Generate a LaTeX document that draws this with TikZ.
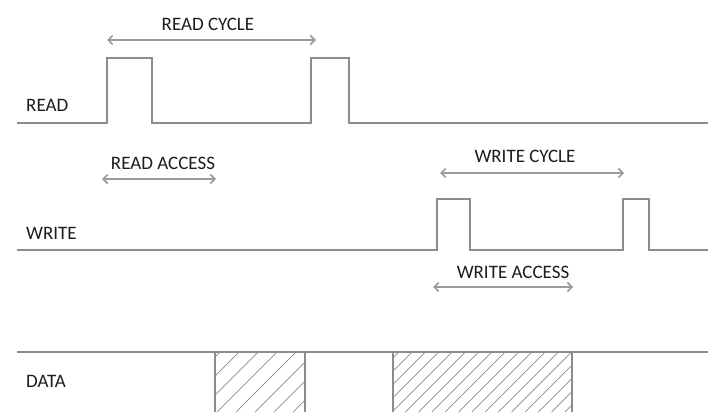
\documentclass[tikz,border=0pt]{standalone}
\usepackage{fontspec}
\setmainfont{Carlito}
\usetikzlibrary{arrows.meta}

\definecolor{wave}{HTML}{8C8C8C}
\definecolor{spancol}{HTML}{9C9C9C}
\definecolor{ink}{HTML}{1C1C1C}

\tikzstyle{every node}=[inner sep=0pt, text=ink, font=\fontsize{19}{21}\selectfont]
\tikzstyle{signame}=[anchor=west]
\tikzstyle{signal}=[draw=wave, line width=1.4pt]
\tikzstyle{span}=[draw=spancol, line width=1.6pt, {Straight Barb[length=4.5pt,width=9pt]}-{Straight Barb[length=4.5pt,width=9pt]}]
\tikzstyle{hatch}=[draw=wave, line width=0.7pt]

\begin{document}
\begin{tikzpicture}[x=1pt,y=-1pt]
    \useasboundingbox (0,0) rectangle (708,412);
    % signal names
    \node [signame] (read) at (26,105) {READ};
    \node [signame] (write) at (26,233) {WRITE};
    \node [signame] (data) at (26,381) {DATA};

    % waveforms
    \draw [signal] (17,123) -- (107,123) -- (107,58) -- (152,58) -- (152,123)
        -- (311,123) -- (311,58) -- (349,58) -- (349,123) -- (708,123);
    \draw [signal] (17,250) -- (437,250) -- (437,199) -- (470,199) -- (470,250)
        -- (623,250) -- (623,199) -- (649,199) -- (649,250) -- (708,250);
    \draw [signal] (17,352) -- (708,352);

    % data valid windows
    \begin{scope}
        \clip (215,352) rectangle (305,412);
        \foreach \x in {141,160,...,305}
            \draw [hatch] (\x,412) -- ++(60,-60);
    \end{scope}
    \begin{scope}
        \clip (393,352) rectangle (572,412);
        \foreach \x in {325.5,338.8,...,572}
            \draw [hatch] (\x,412) -- ++(60,-60);
    \end{scope}
    \draw [signal] (215,352) -- (215,412);
    \draw [signal] (305,352) -- (305,412);
    \draw [signal] (393,352) -- (393,412);
    \draw [signal] (572,352) -- (572,412);

    % timing spans
    \node (readcycle) at (208,24) {READ CYCLE};
    \coordinate (rc1) at (107,40);
    \coordinate (rc2) at (316,40);
    \draw [span] (rc1) -- (rc2);

    \node (readaccess) at (163,163) {READ ACCESS};
    \coordinate (ra1) at (102,179);
    \coordinate (ra2) at (216,179);
    \draw [span] (ra1) -- (ra2);

    \node (writecycle) at (525,156) {WRITE CYCLE};
    \coordinate (wc1) at (440,173);
    \coordinate (wc2) at (624,173);
    \draw [span] (wc1) -- (wc2);

    \node (writeaccess) at (513,272) {WRITE ACCESS};
    \coordinate (wa1) at (433,287);
    \coordinate (wa2) at (573,287);
    \draw [span] (wa1) -- (wa2);
\end{tikzpicture}
\end{document}
